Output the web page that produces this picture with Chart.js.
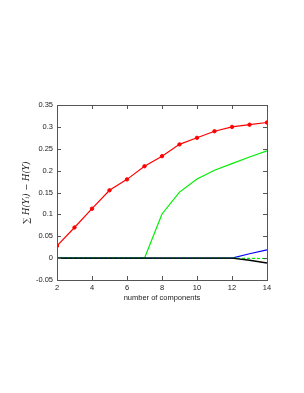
<!DOCTYPE html>
<html>
<head>
<meta charset="utf-8">
<script src="https://cdn.jsdelivr.net/npm/chart.js@4/dist/chart.umd.min.js"></script>
<style>
  html, body { margin: 0; padding: 0; background: #fff; }
  #wrap { width: 304px; height: 393px; }
</style>
</head>
<body>
<div id="wrap"><canvas id="myChart" width="304" height="393"></canvas></div>
<script>
const components = [2, 3, 4, 5, 6, 7, 8, 9, 10, 11, 12, 13, 14]
const redVals = [0.028, 0.07, 0.113, 0.155, 0.18, 0.21, 0.233, 0.26, 0.275, 0.29, 0.3, 0.305, 0.31]
const greenVals = [0, 0, 0, 0, 0, 0, 0.101, 0.151, 0.181, 0.201, 0.216, 0.231, 0.245]
const blueVals = [0, 0, 0, 0, 0, 0, 0, 0, 0, 0, 0, 0.01, 0.019]
const greenDashVals = [0, 0, 0, 0, 0, 0, 0, 0, 0, 0, 0, -0.0005, -0.001]
const blackVals = [0, 0, 0, 0, 0, 0, 0, 0, 0, 0, 0, -0.005, -0.011]
const yTicks = [-0.05, 0, 0.05, 0.1, 0.15, 0.2, 0.25, 0.3, 0.35]
const xTicks = [2, 4, 6, 8, 10, 12, 14]

const pts = vals => vals.map((v, i) => ({ x: components[i], y: v }))

// matlab style: ticks pointing inward on all four sides
const innerTicks = {
    id: 'innerTicks',
    afterDatasetsDraw(chart) {
        const ctx = chart.ctx
        const a = chart.chartArea
        const xs = chart.scales.x, ys = chart.scales.y
        ctx.save()
        ctx.strokeStyle = '#555'
        ctx.lineWidth = 1
        ctx.beginPath()
        xTicks.forEach(t => {
            const p = Math.round(xs.getPixelForValue(t)) + 0.5
            ctx.moveTo(p, a.bottom); ctx.lineTo(p, a.bottom - 4)
            ctx.moveTo(p, a.top); ctx.lineTo(p, a.top + 4)
        })
        yTicks.forEach(t => {
            const p = Math.round(ys.getPixelForValue(t)) + 0.5
            ctx.moveTo(a.left, p); ctx.lineTo(a.left + 4, p)
            ctx.moveTo(a.right, p); ctx.lineTo(a.right - 4, p)
        })
        ctx.stroke()
        ctx.strokeRect(Math.round(a.left) + 0.5, Math.round(a.top) + 0.5,
            Math.round(a.right - a.left), Math.round(a.bottom - a.top))
        ctx.restore()
    }
}

let myChart = document.getElementById('myChart').getContext('2d')
new Chart(myChart, {
    type: 'line',
    data: {
        datasets: [
            { data: pts(redVals), borderColor: '#ff0000', backgroundColor: '#ff0000', borderWidth: 1.2, pointRadius: 1.7, pointBorderWidth: 1, order: 0 },
            { data: pts(blackVals), borderColor: '#000000', borderWidth: 1.4, pointRadius: 0, order: 1 },
            { data: pts(greenDashVals), borderColor: '#00ee00', borderWidth: 1.2, borderDash: [3, 2], pointRadius: 0, order: 2 },
            { data: pts(blueVals), borderColor: '#0000ff', borderWidth: 1.2, pointRadius: 0, order: 3 },
            { data: pts(greenVals), borderColor: '#00ee00', borderWidth: 1.2, pointRadius: 0, order: 4 }
        ]
    },
    options: {
        responsive: false,
        animation: false,
        layout: { padding: { left: 22, right: 37, top: 105, bottom: 91 } },
        plugins: { legend: { display: false }, tooltip: { enabled: false } },
        scales: {
            x: {
                type: 'linear',
                min: 2, max: 14,
                afterBuildTicks: s => { s.ticks = xTicks.map(v => ({ value: v })) },
                afterFit: s => { s.height = 22 },
                grid: { drawOnChartArea: false, drawTicks: false },
                border: { display: false },
                ticks: { color: '#222', font: { family: 'Liberation Sans', size: 7.5 }, padding: 3, maxRotation: 0 },
                title: { display: true, text: 'number of components', color: '#222', font: { family: 'Liberation Sans', size: 7.5 }, padding: { top: 0, bottom: 0 } }
            },
            y: {
                min: -0.05, max: 0.35,
                afterBuildTicks: s => { s.ticks = yTicks.map(v => ({ value: v })) },
                afterFit: s => { s.width = 35 },
                grid: { drawOnChartArea: false, drawTicks: false },
                border: { display: false },
                ticks: { color: '#222', font: { family: 'Liberation Sans', size: 7.5 }, padding: 4,
                    callback: v => String(+v.toFixed(2)) },
                title: { display: true, text: '∑ H(Yᵢ) − H(Y)', color: '#222', font: { family: 'DejaVu Serif', size: 8.5, style: 'italic' }, padding: { top: 0, bottom: 2 } }
            }
        }
    },
    plugins: [innerTicks]
})
</script>
</body>
</html>
